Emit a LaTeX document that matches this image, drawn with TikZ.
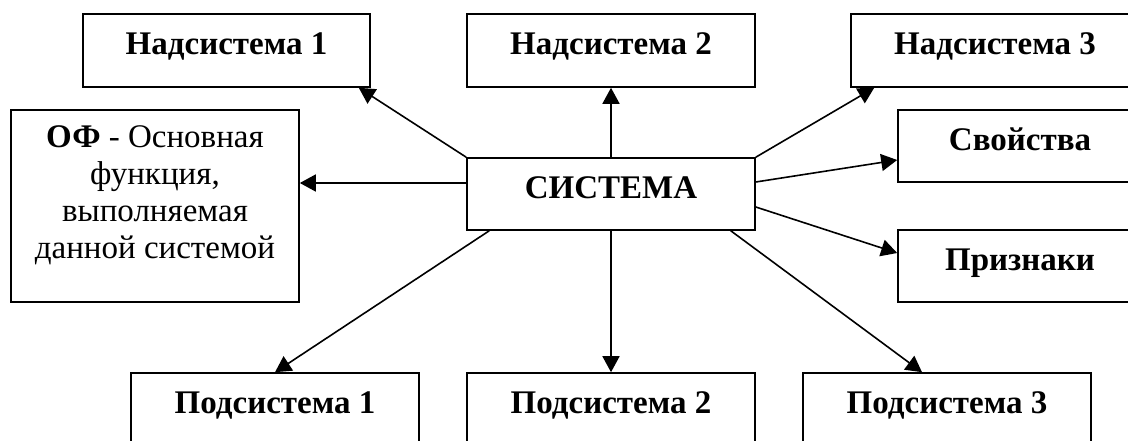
\documentclass[tikz,border=0pt]{standalone}
\usepackage{fontspec}
\setmainfont{Liberation Serif}
\usetikzlibrary{arrows.meta}

\begin{document}
\begin{tikzpicture}[x=1pt,y=-1pt,
    frame/.style={draw, line width=1.6pt, minimum width=288pt, inner sep=0pt},
    box/.style={frame, minimum height=72pt, text height=23pt, text depth=14pt,
      font=\fontsize{33}{37}\selectfont\bfseries},
    ofbox/.style={frame, minimum height=192pt, align=center,
      font=\fontsize{33}{37}\selectfont},
    arr/.style={line width=1.6pt, -{Triangle[length=16pt,width=17pt]}}]
  \clip (0,0) rectangle (1128,441);

  \node[box, minimum width=287pt, minimum height=73pt] (nad1) at (226.5,50.5) {Надсистема 1};
  \node[box, minimum height=73pt] (nad2) at (611,50.5) {Надсистема 2};
  \node[box, minimum height=73pt] (nad3) at (995,50.5) {Надсистема 3};

  \node[box] (sys) at (611,194) {СИСТЕМА};

  \node[ofbox] (of) at (155,206)
    {\textbf{ОФ} - Основная\\функция,\\выполняемая\\данной системой\\[-10pt]\mbox{}};
  \node[box, minimum width=244pt] (svo) at (1020,146) {Свойства};
  \node[box, minimum width=244pt] (priz) at (1020,266) {Признаки};

  \node[box] (pod1) at (275,409) {Подсистема 1};
  \node[box] (pod2) at (611,409) {Подсистема 2};
  \node[box] (pod3) at (947,409) {Подсистема 3};

  \draw[arr] (sys.north west) -- ([xshift=-12pt]nad1.south east);
  \draw[arr] (sys.north) -- (nad2.south);
  \draw[arr] (sys.north east) -- ([xshift=24pt]nad3.south west);

  \draw[arr] ([yshift=11pt]sys.west) -- ([yshift=11pt]sys.west -| of.east);
  \draw[arr] ([yshift=12pt]sys.east) -- ([yshift=-14pt]svo.west);
  \draw[arr] ([yshift=-13pt]sys.east) -- ([yshift=13pt]priz.west);

  \draw[arr] ([xshift=23pt]sys.south west) -- (pod1.north);
  \draw[arr] (sys.south) -- (pod2.north);
  \draw[arr] ([xshift=-25pt]sys.south east) -- ([xshift=-25pt]pod3.north);
\end{tikzpicture}
\end{document}
